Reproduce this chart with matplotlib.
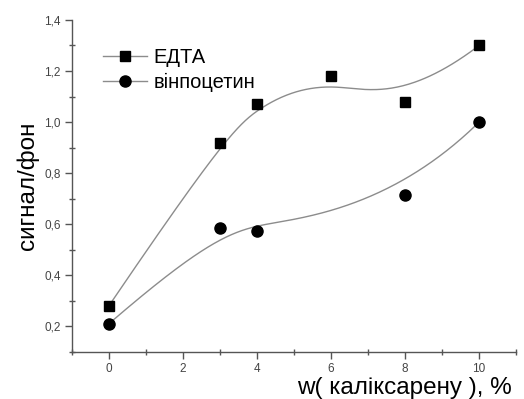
import numpy as np
import matplotlib
matplotlib.use("Agg")
import matplotlib.pyplot as plt
from matplotlib.ticker import MultipleLocator, FuncFormatter

# data
x_edta = [0, 3, 4, 6, 8, 10]
y_edta = [0.28, 0.92, 1.07, 1.18, 1.08, 1.30]
x_vinp = [0, 3, 4, 8, 10]
y_vinp = [0.21, 0.585, 0.575, 0.715, 1.00]


def bspline(xs, ys, k=3, num=300):
    # clamped uniform B-spline with the data points as control points (Origin "B-Spline" connect)
    P = np.column_stack([xs, ys])
    n = len(P)
    inner = np.linspace(0, 1, n - k + 1)
    knots = np.concatenate([[0] * k, inner, [1] * k])
    t = np.linspace(0, 1, num)
    t[-1] = 1 - 1e-9
    N = np.zeros((num, len(knots) - 1))
    for i in range(len(knots) - 1):
        N[:, i] = (t >= knots[i]) & (t < knots[i + 1])
    for d in range(1, k + 1):
        Nn = np.zeros((num, len(knots) - 1 - d))
        for i in range(len(knots) - 1 - d):
            a = knots[i + d] - knots[i]
            b = knots[i + d + 1] - knots[i + 1]
            left = (t - knots[i]) / a * N[:, i] if a > 0 else 0
            right = (knots[i + d + 1] - t) / b * N[:, i + 1] if b > 0 else 0
            Nn[:, i] = left + right
        N = Nn
    C = N @ P
    return C[:, 0], C[:, 1]


plt.rcParams['font.family'] = ['Liberation Sans', 'DejaVu Sans']

fig = plt.figure(figsize=(5.24, 3.99), dpi=100)
ax = fig.add_axes([0.137, 0.118, 0.848, 0.832])

line_col = '#8c8c8c'
cx, cy = bspline(x_edta, y_edta)
ax.plot(cx, cy, color=line_col, lw=1.0)
cx, cy = bspline(x_vinp, y_vinp)
ax.plot(cx, cy, color=line_col, lw=1.0)
ax.plot(x_edta, y_edta, 's', color='black', ms=7.5, ls='none')
ax.plot(x_vinp, y_vinp, 'o', color='black', ms=8, ls='none')

# legend proxies
ax.plot([], [], color=line_col, lw=1.0, marker='s', mfc='black', mec='black', ms=7.5, label='ЕДТА')
ax.plot([], [], color=line_col, lw=1.0, marker='o', mfc='black', mec='black', ms=8, label='вінпоцетин')
ax.legend(loc='upper left', bbox_to_anchor=(0.052, 0.94), frameon=False, fontsize=14.5,
          handlelength=2.2, handletextpad=0.3, labelspacing=0.3, borderaxespad=0)

ax.set_xlim(-1, 11)
ax.set_ylim(0.1, 1.4)
ax.xaxis.set_major_locator(MultipleLocator(2))
ax.xaxis.set_minor_locator(MultipleLocator(1))
ax.yaxis.set_minor_locator(MultipleLocator(0.1))
ax.set_yticks([0.2, 0.4, 0.6, 0.8, 1.0, 1.2, 1.4])
ax.yaxis.set_major_formatter(FuncFormatter(lambda v, p: f"{v:.1f}".replace('.', ',')))

for s in ['top', 'right']:
    ax.spines[s].set_visible(False)
for s in ['left', 'bottom']:
    ax.spines[s].set_color('#555555')
    ax.spines[s].set_linewidth(1.0)
ax.tick_params(which='major', direction='out', length=5, width=1, colors='#555555',
               labelsize=8.5, labelcolor='#444444', pad=3)
ax.tick_params(which='minor', direction='inout', length=4, width=1, colors='#555555')

ax.set_ylabel('сигнал/фон', fontsize=17.5, labelpad=4)
ax.set_xlabel('w( каліксарену ), %', fontsize=17.5)
ax.xaxis.set_label_coords(0.99, -0.075)
ax.xaxis.label.set_horizontalalignment('right')

fig.savefig('out.png', dpi=100)
